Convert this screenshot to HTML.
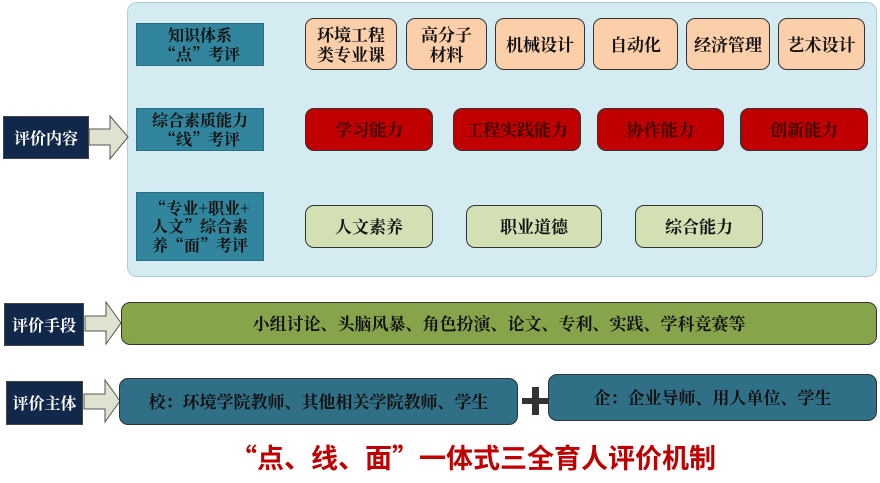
<!DOCTYPE html><html><head><meta charset="utf-8"><style>
body{margin:0;width:880px;height:483px;background:#fff;position:relative;overflow:hidden;font-family:"Noto Serif CJK SC","Liberation Serif",serif;}
.a{position:absolute;box-sizing:border-box;display:flex;align-items:center;justify-content:center;text-align:center;line-height:1.2;font-size:17px;color:#111;font-weight:bold;}
.r{border:1.5px solid #333;border-radius:9px;}
.pe{background:#fbcfa9;}
.rd{background:#c00000;color:#3a0000;}
.gr{background:#d3e0b4;}
.tl{background:#31859c;border:1px solid #2a6f85;font-size:16px;line-height:1.15;}
.dk{background:#12284a;color:#fff;border:1px solid #444;font-size:16px;}
</style></head><body>
<div class="a" style="left:127px;top:2px;width:750px;height:275px;background:#d4ebf2;border:1px solid #a9cfd9;border-radius:10px"></div>
<div class="a tl" style="left:136px;top:23px;width:128px;height:43px">知识体系<br>“点”考评</div>
<div class="a tl" style="left:136px;top:108px;width:128px;height:43px">综合素质能力<br>“线”考评</div>
<div class="a tl" style="left:136px;top:192px;width:128px;height:69px">“专业+职业+<br>人文”综合素<br>养“面”考评</div>
<div class="a r pe" style="left:305px;top:18px;width:92px;height:52px">环境工程<br>类专业课</div>
<div class="a r pe" style="left:406px;top:18px;width:81px;height:52px">高分子<br>材料</div>
<div class="a r pe" style="left:495px;top:18px;width:90px;height:52px">机械设计</div>
<div class="a r pe" style="left:593px;top:18px;width:85px;height:52px">自动化</div>
<div class="a r pe" style="left:686px;top:18px;width:84px;height:52px">经济管理</div>
<div class="a r pe" style="left:778px;top:18px;width:87px;height:52px">艺术设计</div>
<div class="a r rd" style="left:305px;top:108px;width:128px;height:43px">学习能力</div>
<div class="a r rd" style="left:453px;top:108px;width:128px;height:43px">工程实践能力</div>
<div class="a r rd" style="left:597px;top:108px;width:127px;height:43px">协作能力</div>
<div class="a r rd" style="left:740px;top:108px;width:128px;height:43px">创新能力</div>
<div class="a r gr" style="left:305px;top:205px;width:128px;height:43px">人文素养</div>
<div class="a r gr" style="left:466px;top:205px;width:136px;height:43px">职业道德</div>
<div class="a r gr" style="left:635px;top:205px;width:128px;height:43px">综合能力</div>
<div class="a dk" style="left:3px;top:116px;width:86px;height:43px">评价内容</div>
<div class="a dk" style="left:4px;top:303px;width:80px;height:43px">评价手段</div>
<div class="a dk" style="left:6px;top:381px;width:77px;height:44px">评价主体</div>
<svg style="position:absolute;left:0;top:0" width="880" height="483">
<g fill="#dfe2cf" stroke="#555" stroke-width="1">
<polygon points="89,129 110,129 110,116 128,137 110,159 110,145 89,145"/>
<polygon points="85,316 106,316 106,302 121,323 106,344 106,331 85,331"/>
<polygon points="84,394 105,394 105,380 120,401 105,422 105,409 84,409"/>
</g>
<rect x="522" y="398" width="27" height="6" fill="#333"/><rect x="532" y="387" width="7" height="28" fill="#333"/>
</svg>
<div class="a r" style="left:121px;top:302px;width:756px;height:43px;background:#86a54a">小组讨论、头脑风暴、角色扮演、论文、专利、实践、学科竞赛等</div>
<div class="a r" style="left:119px;top:378px;width:399px;height:47px;background:#2f7087">校：环境学院教师、其他相关学院教师、学生</div>
<div class="a r" style="left:548px;top:374px;width:329px;height:47px;background:#2f7087">企：企业导师、用人单位、学生</div>
<div class="a" style="left:173px;top:439px;width:600px;height:36px;font-family:'Noto Sans CJK SC','Liberation Sans',sans-serif;font-weight:bold;font-size:27px;color:#c00000">“点、线、面”一体式三全育人评价机制</div>
</body></html>
